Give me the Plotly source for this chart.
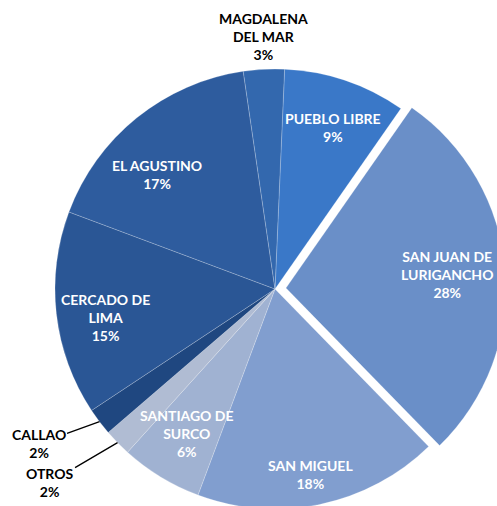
import math
import plotly.graph_objects as go

# ---- data ----
districts = ["PUEBLO LIBRE", "SAN JUAN DE LURIGANCHO", "SAN MIGUEL", "SANTIAGO DE SURCO",
             "OTROS", "CALLAO", "CERCADO DE LIMA", "EL AGUSTINO", "MAGDALENA DEL MAR"]
display_names = ["PUEBLO LIBRE", "SAN JUAN DE<br>LURIGANCHO", "SAN MIGUEL", "SANTIAGO DE<br>SURCO",
                 "OTROS", "CALLAO", "CERCADO DE<br>LIMA", "EL AGUSTINO", "MAGDALENA<br>DEL MAR"]
shares = [9, 28, 18, 6, 2, 2, 15, 17, 3]

# ---- styling ----
colors = ["#3a78c8", "#6a8fc8", "#819ecf", "#a0b2d2", "#b0bcd3",
          "#1f4780", "#2a5695", "#2e5c9e", "#3368ae"]
pulls = [0, 0.05, 0, 0, 0, 0, 0, 0, 0]
ROT = 2.5
# label placement style: radial factor (fraction of radius) and angular nudge (deg)
label_rad = [0.78, 0.735, 0.86, 0.77, None, None, 0.78, 0.75, None]
label_dang = [1, 0, 1, 0, 0, 0, -3, -7, 0]
# outside labels: pixel offset of text from slice edge point
outside_off = {4: (-68, 40), 5: (-61, 22), 8: (0, -33)}

W, H = 520, 530
cx, cy, r = 275, 289, 220
half = r * (1 + max(pulls))
dom_x = [(cx - half) / W, (cx + half) / W]
dom_y = [((H - cy) - half) / H, ((H - cy) + half) / H]

fig = go.Figure(go.Pie(
    labels=districts,
    values=shares,
    textinfo="none",
    marker=dict(colors=colors, line=dict(color="rgba(255,255,255,0.35)", width=0.6)),
    pull=pulls,
    sort=False,
    direction="clockwise",
    rotation=ROT,
    domain=dict(x=dom_x, y=dom_y),
    showlegend=False,
    hoverinfo="label+percent",
))

total = sum(shares)
cum = 0
font_in = dict(color="white", family="Lato", size=14, weight="bold")
font_out = dict(color="black", family="Lato", size=14, weight="bold")
for i, (name, v) in enumerate(zip(display_names, shares)):
    mid = ROT + 360 * (cum + v / 2) / total
    cum += v
    pct = f"{round(100 * v / total)}%"
    txt = f"{name}<br>{pct}"
    if label_rad[i] is not None:
        a = math.radians(mid + label_dang[i])
        rr = r * (label_rad[i] + pulls[i])
        px = cx + rr * math.sin(a)
        py = cy - rr * math.cos(a)
        fig.add_annotation(x=px / W, y=(H - py) / H, xref="paper", yref="paper",
                           text=txt, showarrow=False, font=font_in,
                           xanchor="center", yanchor="middle", align="center")
    else:
        a = math.radians(mid)
        ex = cx + r * math.sin(a)
        ey = cy - r * math.cos(a)
        ox, oy = outside_off[i]
        if i == 8:
            fig.add_annotation(x=(ex + ox) / W, y=(H - (ey + oy)) / H, xref="paper", yref="paper",
                               text=txt, showarrow=False, font=font_out,
                               xanchor="center", yanchor="middle", align="center")
        else:
            fig.add_annotation(x=ex / W, y=(H - ey) / H, xref="paper", yref="paper",
                               text=txt, showarrow=True, arrowhead=0, arrowwidth=1.3,
                               arrowcolor="black", ax=ox, ay=oy, standoff=0,
                               font=font_out, align="center")

fig.update_layout(
    width=W, height=H,
    margin=dict(l=0, r=0, t=0, b=0),
    paper_bgcolor="white",
    plot_bgcolor="white",
)

post = """
var gd = document.getElementById('{plot_id}');
document.body.style.margin = '0';
document.body.style.overflow = 'hidden';
gd.parentElement.style.cssText = 'width:497px;height:506px;overflow:hidden;';
"""

fig.write_html("out.html", post_script=post, config={"displayModeBar": False})
